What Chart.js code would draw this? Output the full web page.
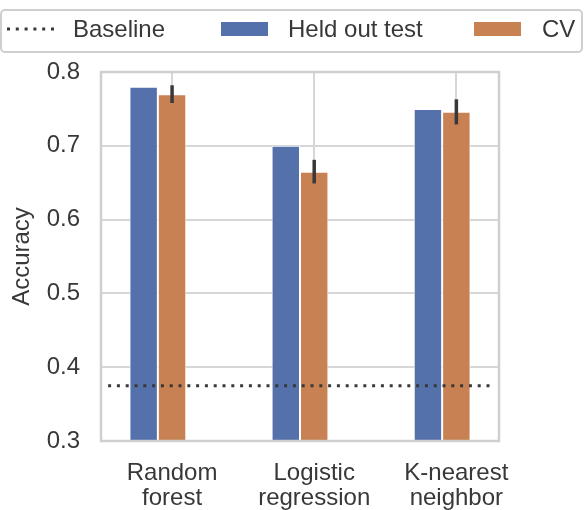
<!DOCTYPE html>
<html>
<head>
<meta charset="utf-8">
<script src="https://cdn.jsdelivr.net/npm/chart.js@4.4.1/dist/chart.umd.min.js"></script>
<style>
  html, body { margin: 0; padding: 0; background: #fff; }
</style>
</head>
<body>
<canvas id="accChart" width="584" height="510"></canvas>
<script>
// data
const categories = [['Random', 'forest'], ['Logistic', 'regression'], ['K-nearest', 'neighbor']];
const heldOut = [0.780, 0.700, 0.750];
const cvMean = [0.770, 0.665, 0.746];
const cvErr = [0.012, 0.016, 0.017];
const baseline = 0.375;
const baselineSpan = [-0.45, 2.25];
const yTicks = [0.3, 0.4, 0.5, 0.6, 0.7, 0.8];

const BLUE = '#5471ab';
const ORANGE = '#c88152';
const INK = '#383838';
const GRID = '#d6d6d6';
const FONT = "'Liberation Sans', Arial, sans-serif";

// frame, error bars and the boxed legend on top
const extras = {
    id: 'extras',
    afterDatasetsDraw(chart) {
        const { ctx, chartArea: a, scales: { y } } = chart;
        ctx.save();
        ctx.strokeStyle = '#cfcfcf';
        ctx.lineWidth = 2.5;
        ctx.strokeRect(a.left, a.top, a.right - a.left, a.bottom - a.top);

        ctx.strokeStyle = INK;
        ctx.lineWidth = 3.5;
        chart.getDatasetMeta(1).data.forEach((bar, i) => {
            ctx.beginPath();
            ctx.moveTo(bar.x, y.getPixelForValue(cvMean[i] - cvErr[i]));
            ctx.lineTo(bar.x, y.getPixelForValue(cvMean[i] + cvErr[i]));
            ctx.stroke();
        });
        ctx.restore();
    },
    afterDraw(chart) {
        const ctx = chart.ctx;
        const ds = chart.data.datasets;
        ctx.save();
        ctx.beginPath();
        ctx.roundRect(1, 10, 581, 42, 4);
        ctx.strokeStyle = '#cfcfcf';
        ctx.lineWidth = 2;
        ctx.stroke();

        const cy = 29;
        ctx.font = '24px ' + FONT;
        ctx.fillStyle = INK;
        ctx.textBaseline = 'middle';

        // baseline sample
        ctx.strokeStyle = INK;
        ctx.lineWidth = 3;
        ctx.setLineDash([3, 5.8]);
        ctx.beginPath();
        ctx.moveTo(7, cy);
        ctx.lineTo(56, cy);
        ctx.stroke();
        ctx.setLineDash([]);
        ctx.fillText(ds[2].label, 73, cy + 1);

        ctx.fillStyle = BLUE;
        ctx.fillRect(221, 22, 47, 14);
        ctx.fillStyle = INK;
        ctx.fillText(ds[0].label, 288, cy + 1);

        ctx.fillStyle = ORANGE;
        ctx.fillRect(474, 22, 47, 14);
        ctx.fillStyle = INK;
        ctx.fillText(ds[1].label, 542, cy + 1);
        ctx.restore();
    }
};

const ctx = document.getElementById('accChart').getContext('2d');
const accChart = new Chart(ctx, {
    type: 'bar',
    data: {
        datasets: [
            {
                label: 'Held out test',
                data: heldOut.map((v, i) => ({ x: i - 0.1, y: v })),
                backgroundColor: BLUE,
                borderColor: '#ffffff',
                borderWidth: 1,
                categoryPercentage: 0.4,
                barPercentage: 1,
                order: 1
            },
            {
                label: 'CV',
                data: cvMean.map((v, i) => ({ x: i - 0.1, y: v })),
                backgroundColor: ORANGE,
                borderColor: '#ffffff',
                borderWidth: 1,
                categoryPercentage: 0.4,
                barPercentage: 1,
                order: 1
            },
            {
                type: 'line',
                label: 'Baseline',
                data: baselineSpan.map(x => ({ x: x, y: baseline })),
                borderColor: INK,
                borderWidth: 3,
                borderDash: [3, 5.8],
                pointRadius: 0,
                order: 0
            }
        ]
    },
    options: {
        responsive: false,
        animation: false,
        layout: {
            padding: { top: 72, right: 85, bottom: 0, left: 0 }
        },
        plugins: {
            legend: { display: false },
            tooltip: { enabled: false }
        },
        scales: {
            x: {
                type: 'linear',
                min: -0.5,
                max: 2.3,
                offset: false,
                afterBuildTicks: (scale) => {
                    scale.ticks = categories.map((c, i) => ({ value: i }));
                },
                afterFit: (scale) => { scale.height = 69; },
                grid: { color: GRID, lineWidth: 2, drawTicks: false, offset: false },
                border: { display: false },
                ticks: {
                    autoSkip: false,
                    maxRotation: 0,
                    padding: 20,
                    color: INK,
                    font: { family: FONT, size: 24, lineHeight: 1.05 },
                    callback: (v) => categories[v]
                }
            },
            y: {
                min: 0.3,
                max: 0.8,
                afterBuildTicks: (scale) => {
                    scale.ticks = yTicks.map(v => ({ value: v }));
                },
                afterFit: (scale) => { scale.width = 101; },
                grid: { color: GRID, lineWidth: 2, drawTicks: false },
                border: { display: false },
                ticks: {
                    padding: 21,
                    color: INK,
                    font: { family: FONT, size: 24 },
                    callback: (v) => v.toFixed(1)
                },
                title: {
                    display: true,
                    text: 'Accuracy',
                    color: INK,
                    padding: { top: 8, bottom: 0 },
                    font: { family: FONT, size: 24 }
                }
            }
        }
    },
    plugins: [extras]
});
</script>
</body>
</html>
